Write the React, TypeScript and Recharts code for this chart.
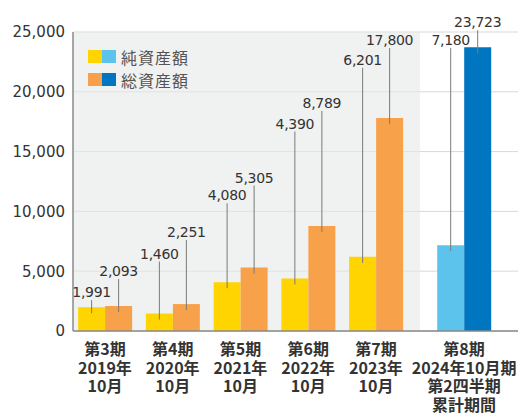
import React from "react";
import {
  BarChart,
  Bar,
  XAxis,
  YAxis,
  CartesianGrid,
  ReferenceArea,
  Cell,
} from "recharts";

const periods = ["第3期", "第4期", "第5期", "第6期", "第7期", "第8期"];
const periodDates = [
  ["2019年", "10月"],
  ["2020年", "10月"],
  ["2021年", "10月"],
  ["2022年", "10月"],
  ["2023年", "10月"],
  ["2024年10月期", "第2四半期", "累計期間"],
];
const netAssets = [1991, 1460, 4080, 4390, 6201, 7180];
const totalAssets = [2093, 2251, 5305, 8789, 17800, 23723];
const yTicks = [0, 5000, 10000, 15000, 20000, 25000];
const legendLabels = ["純資産額", "総資産額"];

// layout
const LAST_GAP = 0.3;
const netLift = [15, 60, 87, 155, 197, 205];
const totalLift = [35, 72, 90, 123, 78, 25];
const NET = ["#FFD400", "#5CC3EC"];
const TOTAL = ["#F8A14B", "#0076C0"];
const NUM_FONT = "'DejaVu Sans', sans-serif";
const JP_FONT = "'Noto Sans CJK JP', sans-serif";

const positions = periods.map(
  (_, i) => i + 1 + (i === periods.length - 1 ? LAST_GAP : 0)
);
const data = periods.map((p, i) => ({
  pos: positions[i],
  net: netAssets[i],
  total: totalAssets[i],
}));
const last = periods.length - 1;
const greyEnd = (positions[last - 1] + positions[last]) / 2;

const makeLabel = (lifts: number[]) => (props: any) => {
  const { x, y, width, value, index } = props;
  const cx = x + width / 2;
  const ty = y - lifts[index];
  return (
    <g>
      <line x1={cx} x2={cx} y1={ty + 8} y2={y + 6} stroke="#7a7a7a" strokeWidth={1} />
      <text
        x={cx}
        y={ty}
        dy="0.36em"
        textAnchor="middle"
        fontFamily={NUM_FONT}
        fontSize={14}
        fill="#333"
        letterSpacing={-0.3}
      >
        {Number(value).toLocaleString("en-US")}
      </text>
    </g>
  );
};

const PeriodTick = (props: any) => {
  const { x, y, payload } = props;
  const i = positions.indexOf(payload.value);
  if (i < 0) return null;
  const lines = [periods[i], ...periodDates[i]];
  return (
    <g>
      {lines.map((l, k) => (
        <text
          key={k}
          x={x}
          y={y + 24 + k * 18.5}
          textAnchor="middle"
          fontFamily={JP_FONT}
          fontSize={16}
          fontWeight="bold"
          fill="#333"
        >
          {l}
        </text>
      ))}
    </g>
  );
};

function LegendBox() {
  const rows = [
    { label: legendLabels[0], colors: NET },
    { label: legendLabels[1], colors: TOTAL },
  ];
  return (
    <div style={{ position: "absolute", left: 88, top: 45 }}>
      {rows.map((r) => (
        <div key={r.label} style={{ display: "flex", alignItems: "center", height: 23 }}>
          <span style={{ width: 14, height: 13, background: r.colors[0] }} />
          <span style={{ width: 14, height: 13, background: r.colors[1] }} />
          <span
            style={{
              marginLeft: 5,
              fontFamily: JP_FONT,
              fontSize: 16,
              color: "#555",
              letterSpacing: 1,
              lineHeight: "16px",
            }}
          >
            {r.label}
          </span>
        </div>
      ))}
    </div>
  );
}

export default function App() {
  return (
    <div style={{ position: "absolute", left: 0, top: 0, width: 521, height: 415, background: "#fff" }}>
      <BarChart
        width={521}
        height={415}
        data={data}
        barGap={0}
        margin={{ top: 32, right: 3, bottom: 0, left: 13 }}
      >
        <ReferenceArea
          x1={0.5277}
          x2={greyEnd}
          y1={0}
          y2={25000}
          fill="#E6E8E8"
          fillOpacity={0.6}
          stroke="none"
        />
        <CartesianGrid vertical={false} stroke="#d9d9d9" />
        <XAxis
          type="number"
          dataKey="pos"
          domain={[0.5277, 7.096]}
          ticks={positions}
          interval={0}
          allowDecimals
          tickLine={false}
          tickSize={0}
          tickMargin={0}
          axisLine={{ stroke: "#8a8a8a", strokeWidth: 1.5 }}
          tick={<PeriodTick />}
          height={84}
        />
        <YAxis
          domain={[0, 25000]}
          ticks={yTicks}
          width={60}
          tickLine={false}
          tickSize={0}
          tickMargin={8}
          axisLine={{ stroke: "#8a8a8a", strokeWidth: 1.5 }}
          tickFormatter={(v: number) => v.toLocaleString("en-US")}
          tick={{ fill: "#333", fontSize: 15, fontFamily: NUM_FONT }}
        />
        <Bar dataKey="net" barSize={27} isAnimationActive={false} label={makeLabel(netLift)}>
          {data.map((_, i) => (
            <Cell key={i} fill={i === last ? NET[1] : NET[0]} />
          ))}
        </Bar>
        <Bar dataKey="total" barSize={27} isAnimationActive={false} label={makeLabel(totalLift)}>
          {data.map((_, i) => (
            <Cell key={i} fill={i === last ? TOTAL[1] : TOTAL[0]} />
          ))}
        </Bar>
      </BarChart>
      <LegendBox />
    </div>
  );
}
